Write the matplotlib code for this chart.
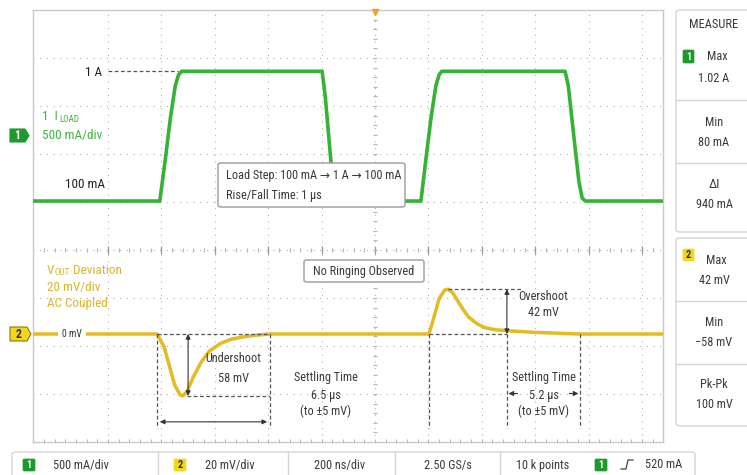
import numpy as np
import matplotlib
matplotlib.use('Agg')
import matplotlib.pyplot as plt
from matplotlib.patches import FancyBboxPatch, Polygon

plt.rcParams['font.family'] = ['Roboto Condensed', 'DejaVu Sans']

W, H = 747, 475

# ---------------- data (time in graticule divisions from trigger) ----------------
ch1_t = [-6.41, -4.03, -3.93, -3.83, -3.74, -3.68, -3.62, -0.99, -0.93, -0.85, -0.78, -0.74,
         0.86, 0.95, 1.05, 1.14, 1.20, 1.25, 3.56, 3.62, 3.72, 3.82, 3.88, 3.94, 5.40]
ch1_ma = [100, 100, 380, 680, 900, 975, 1000, 1000, 820, 480, 180, 100,
          100, 380, 680, 900, 975, 1000, 1000, 900, 560, 230, 120, 100, 100]

ch2_t = [-6.41, -4.08, -3.95, -3.85, -3.75, -3.65, -3.60, -3.52, -3.40, -3.25, -3.10, -2.90,
         -2.70, -2.45, -2.20, -1.97, 1.01, 1.10, 1.20, 1.30, 1.37, 1.45, 1.55, 1.65, 1.75,
         1.90, 2.05, 2.25, 2.50, 3.00, 3.84, 5.40]
ch2_mv = [0, 0, -12, -30, -48, -57, -58, -54, -40, -26, -16, -9,
          -5, -2.5, -1, 0, 0, 15, 33, 41, 42, 39, 31, 23, 16,
          10, 6, 4, 3, 1.5, 0, 0]

ch1_pos_div, ch1_ma_per_div = 0.72, 333.0
ch2_pos_div, ch2_mv_per_div = -1.75, 45.0

undershoot_t = [-4.08, -3.60, -1.97]        # start, minimum, settled
undershoot_mv = -58
overshoot_t = [1.01, 1.37, 2.47, 3.84]      # start, peak, end of peak, settled
overshoot_mv = 42

measure_ch1 = [("Max", "1.02 A"), ("Min", "80 mA"), ("\u0394I", "940 mA")]
measure_ch2 = [("Max", "42 mV"), ("Min", "\u221258 mV"), ("Pk-Pk", "100 mV")]
status_items = ["500 mA/div", "20 mV/div", "200 ns/div", "2.50 GS/s", "10 k points", "520 mA"]

# ---------------- colours ----------------
GREEN = '#35b335'
GREEN_TXT = '#3cb83c'
BADGE_G = '#1e9a2c'
YELLOW = '#e4bb20'
YELLOW_TXT = '#dcb52c'
BADGE_Y = '#f3d71f'
TXT = '#3a3a3a'
GRID = '#b5b5b5'
FS = 8.8

fig = plt.figure(figsize=(W / 100, H / 100), dpi=100)
fig.patch.set_facecolor('white')
renderer = fig.canvas.get_renderer()


def fx(px):
    return px / W


def fy(py):
    return 1 - py / H


def ftxt(px, py, s, size=FS, color=TXT, ha='center', **kw):
    return fig.text(fx(px), fy(py), s, fontsize=size, color=color, ha=ha, va='center', zorder=8, **kw)


def right_px(t):
    return t.get_window_extent(renderer).x1


def fbox(x0, y0, x1, y1, ec='#d5d5d5', fc='white', lw=1.0, r=3, z=5):
    p = FancyBboxPatch((fx(x0), fy(y1)), fx(x1) - fx(x0), fy(y0) - fy(y1),
                       boxstyle=f"round,pad=0,rounding_size={r / W}",
                       transform=fig.transFigure, ec=ec, fc=fc, lw=lw, zorder=z)
    fig.add_artist(p)
    return p


# ---------------- graticule axes ----------------
ax = fig.add_axes([fx(33), fy(442), (663 - 33) / W, (442 - 10) / H])
ax.set_xlim(-342 / 53.4, 288 / 53.4)
ax.set_ylim(-4, 5)
ax.set_xticks([])
ax.set_yticks([])
for s in ax.spines.values():
    s.set_color('#c9c9c9')
    s.set_linewidth(1.0)

for xv in range(-5, 6):
    ax.axvline(xv, color=GRID, lw=0.8, ls=(0, (1, 5)), zorder=1)
for yv in range(-3, 5):
    ax.axhline(yv, color=GRID, lw=0.8, ls=(0, (1, 5)), zorder=1)

minor_x = np.arange(-6.4, 5.4, 0.2)
ax.plot(minor_x, np.zeros_like(minor_x), '|', color=GRID, ms=3, mew=0.8, zorder=1)
ax.plot(np.arange(-5, 6), np.zeros(11), '|', color='#999999', ms=6, mew=0.9, zorder=1)
ax.plot(minor_x, np.full_like(minor_x, -3.97), '|', color=GRID, ms=3, mew=0.8, zorder=1, clip_on=False)
minor_y = np.arange(-4, 5.01, 0.2)
ax.plot(np.zeros_like(minor_y), minor_y, '_', color=GRID, ms=3, mew=0.8, zorder=1)
ax.plot([0], [4.95], marker='v', color='#f0a030', ms=5, clip_on=False, zorder=6)

# ---------------- traces ----------------
y1 = ch1_pos_div + np.array(ch1_ma) / ch1_ma_per_div
y2 = ch2_pos_div + np.array(ch2_mv) / ch2_mv_per_div
ax.plot(ch1_t, y1, color=GREEN, lw=2.6, solid_joinstyle='round', zorder=3)
ax.plot(ch2_t, y2, color=YELLOW, lw=2.5, solid_joinstyle='round', zorder=3)

# ---------------- annotations on traces ----------------
dash = dict(color='#555555', lw=0.9, ls=(0, (3, 2)), zorder=4)
arrow = dict(arrowstyle='<|-|>', color='#333333', lw=0.8, mutation_scale=7, shrinkA=0, shrinkB=0)
y_hi = ch1_pos_div + 1000 / ch1_ma_per_div
y_base = ch2_pos_div
y_low = -3.71

# 1 A dashed reference
ax.plot([(108 - 375) / 53.4, ch1_t[5]], [y_hi, y_hi], **dash)

# undershoot
us0, usmin, us1 = undershoot_t
y_min = ch2_pos_div + undershoot_mv / ch2_mv_per_div
ax.plot([us0, us1], [y_base, y_base], **dash)
ax.plot([usmin + 0.08, us1], [y_min, y_min], **dash)
ax.plot([us0, us0], [y_base, y_low], **dash)
ax.plot([us1, us1], [y_base, y_low], **dash)
ax.annotate('', xy=(usmin + 0.1, y_min), xytext=(usmin + 0.1, y_base), arrowprops=arrow, zorder=4)
ax.annotate('', xy=(us0 + 0.05, -3.58), xytext=(us1 - 0.05, -3.58), arrowprops=arrow, zorder=4)

# overshoot
os0, ospk, os1, os2 = overshoot_t
y_max = ch2_pos_div + overshoot_mv / ch2_mv_per_div
ax.plot([ospk, os1 + 0.3], [y_max, y_max], **dash)
ax.plot([os0, os1], [y_base, y_base], **dash)
ax.plot([os0, os0], [y_base, y_low], **dash)
ax.plot([os1, os1], [y_base, y_low], **dash)
ax.plot([os2, os2], [y_base, y_low], **dash)
ax.annotate('', xy=(os1, y_max), xytext=(os1, y_base), arrowprops=arrow, zorder=4)
arrow1 = dict(arrowstyle='-|>', color='#333333', lw=0.8, mutation_scale=7, shrinkA=0, shrinkB=0)
ax.annotate('', xy=(os1 + 0.03, -2.99), xytext=(os1 + 0.2, -2.99), arrowprops=arrow1, zorder=4)
ax.annotate('', xy=(os2 - 0.03, -2.99), xytext=(os2 - 0.2, -2.99), arrowprops=arrow1, zorder=4)

# ---------------- plot texts ----------------
ftxt(102, 72, "1 A", size=9.5, color='#222222', ha='right')
ftxt(105, 185, "100 mA", size=9.5, color='#222222', ha='right')

t_i = ftxt(42, 117, "1  I", size=9.5, color=GREEN_TXT, ha='left')
ftxt(right_px(t_i) + 1, 119, "LOAD", size=6.5, color=GREEN_TXT, ha='left')
ftxt(42, 135, "500 mA/div", size=9.5, color=GREEN_TXT, ha='left')

t_v = ftxt(47, 271, "V", size=9.5, color=YELLOW_TXT, ha='left')
t_o = ftxt(right_px(t_v) + 0.5, 272.5, "OUT", size=6.5, color=YELLOW_TXT, ha='left')
ftxt(right_px(t_o) + 3, 271, "Deviation", size=9.5, color=YELLOW_TXT, ha='left')
ftxt(47, 287, "20 mV/div", size=9.5, color=YELLOW_TXT, ha='left')
ftxt(47, 303, "AC Coupled", size=9.5, color=YELLOW_TXT, ha='left')

fbox(58, 328, 86, 340, ec='white', fc='white', lw=0, r=0, z=5)
ftxt(72, 334, "0 mV", size=7, color='#333333')


# channel markers
def marker(x0, y0, x1, y1, fc, ec, label, tc):
    pts = [(fx(x0), fy(y0)), (fx(x1 - 4), fy(y0)), (fx(x1), fy((y0 + y1) / 2)),
           (fx(x1 - 4), fy(y1)), (fx(x0), fy(y1))]
    fig.add_artist(Polygon(pts, closed=True, transform=fig.transFigure, fc=fc, ec=ec, lw=0.8, zorder=6,
                           joinstyle='round'))
    ftxt((x0 + x1 - 4) / 2, (y0 + y1) / 2, label, size=8.5, color=tc, weight='bold')


marker(10, 129, 29, 142, BADGE_G, BADGE_G, "1", 'white')
marker(10, 327, 31, 341, BADGE_Y, '#8a7a10', "2", '#333333')

# Load step box
fbox(218, 163, 405, 207, ec='#9a9a9a', lw=1.0, r=3, z=5)
ftxt(226, 176, "Load Step: 100 mA \u2192 1 A \u2192 100 mA", ha='left')
ftxt(226, 195, "Rise/Fall Time: 1 \u00b5s", ha='left')

# No ringing box
fbox(304, 260, 424, 282, ec='#9a9a9a', lw=1.0, r=3, z=5)
ftxt(364, 271, "No Ringing Observed")

ftxt(233, 358, "Undershoot")
ftxt(233, 378, "58 mV")
ftxt(326, 377, "Settling Time")
ftxt(326, 395, "6.5 \u00b5s")
ftxt(326, 411, "(to \u00b15 mV)")

ftxt(543, 296, "Overshoot")
ftxt(543, 312, "42 mV")
ftxt(544, 378, "Settling Time")
ftxt(544, 395, "5.2 \u00b5s")
ftxt(544, 411, "(to \u00b15 mV)")


# ---------------- measure panels ----------------
def badge(x0, y0, x1, y1, fc, label, tc):
    fbox(x0, y0, x1, y1, ec=fc, fc=fc, lw=0.5, r=1.5, z=6)
    ftxt((x0 + x1) / 2, (y0 + y1) / 2 + 0.5, label, size=7.5, color=tc, weight='bold')


fbox(676, 10, 770, 232, ec='#d5d5d5', r=4)
for yy in (100, 163):
    fig.add_artist(plt.Line2D([fx(676), fx(747)], [fy(yy), fy(yy)], transform=fig.transFigure,
                              color='#d5d5d5', lw=1, zorder=6))
ftxt(714, 25, "MEASURE", size=9)
badge(683, 50, 694, 63, BADGE_G, "1", 'white')
ftxt(717, 57, measure_ch1[0][0])
ftxt(714, 78, measure_ch1[0][1])
ftxt(714, 122, measure_ch1[1][0])
ftxt(714, 143, measure_ch1[1][1])
ftxt(714, 185, measure_ch1[2][0], size=9.5)
ftxt(714, 205, measure_ch1[2][1])

fbox(676, 238, 770, 426, ec='#d5d5d5', r=4)
for yy in (301, 364):
    fig.add_artist(plt.Line2D([fx(676), fx(747)], [fy(yy), fy(yy)], transform=fig.transFigure,
                              color='#d5d5d5', lw=1, zorder=6))
badge(683, 249, 694, 261, BADGE_Y, "2", '#333333')
ftxt(716, 260, measure_ch2[0][0])
ftxt(714, 280, measure_ch2[0][1])
ftxt(714, 322, measure_ch2[1][0])
ftxt(714, 343, measure_ch2[1][1])
ftxt(714, 384, measure_ch2[2][0])
ftxt(714, 405, measure_ch2[2][1])

# ---------------- status bar ----------------
fbox(12, 452, 695, 490, ec='#d5d5d5', r=4)
for xx in (158, 288, 395, 500):
    fig.add_artist(plt.Line2D([fx(xx), fx(xx)], [fy(452), fy(475)], transform=fig.transFigure,
                              color='#d5d5d5', lw=1, zorder=6))
badge(23, 459, 35, 471, BADGE_G, "1", 'white')
ftxt(53, 465, status_items[0], ha='left')
badge(174, 459, 186, 471, BADGE_Y, "2", '#333333')
ftxt(205, 465, status_items[1], ha='left')
ftxt(340, 465, status_items[2])
ftxt(448, 465, status_items[3])
ftxt(543, 465, status_items[4])
badge(595, 459, 607, 471, BADGE_G, "1", 'white')
fig.add_artist(plt.Line2D([fx(621), fx(626), fx(628), fx(633)], [fy(469), fy(469), fy(460), fy(460)],
                          transform=fig.transFigure, color='#444444', lw=0.9, zorder=6))
ftxt(645, 465, status_items[5], ha='left')

fig.savefig('out.png', dpi=100, facecolor='white')
